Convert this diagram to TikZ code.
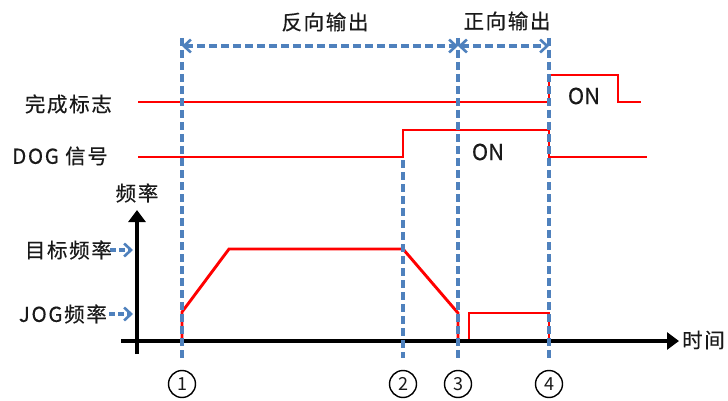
\documentclass[tikz,border=0pt]{standalone}
\usepackage{fontspec}
\setmainfont{Noto Sans CJK SC}
\usetikzlibrary{arrows.meta}
\definecolor{dblue}{RGB}{79,129,189}
\definecolor{sred}{RGB}{255,0,0}
\begin{document}
\begin{tikzpicture}[x=1pt,y=-1pt,
  sig/.style={draw=sred, line width=2.9pt, line join=miter},
  guide/.style={draw=dblue, line width=3.2pt, dash pattern=on 8pt off 4pt},
  barb/.tip={Straight Barb[length=7pt,width=13pt,line width=2.6pt]},
  span/.style={guide, barb-barb},
  tick/.style={draw=dblue, line width=3.2pt, dash pattern=on 6pt off 3pt, -barb},
  lbl/.style={font=\fontsize{20.5pt}{24pt}\selectfont\addfontfeature{LetterSpace=8,FakeBold=0.4}, text=black!90, inner sep=0pt},
  onl/.style={lbl, font=\fontsize{22pt}{24pt}\selectfont\addfontfeature{FakeBold=0.4}},
  num/.style={circle, draw=black, line width=1.4pt, minimum size=27pt, inner sep=0pt, font=\fontsize{18pt}{20pt}\selectfont, text=black!90},
  axis/.style={draw=black, line width=4pt, -{Triangle[length=12pt,width=17pt]}}
]
\useasboundingbox (0,0) rectangle (728,401);

% signal traces
\draw[sig] (138,102) -- (549,102) -- (549,75) -- (618,75) -- (618,102) -- (641,102);
\draw[sig] (138,157) -- (403,157) -- (403,130) -- (549,130) -- (549,157) -- (647,157);
\draw[sig] (182,341) -- (182,312) -- (229,249) -- (403,249) -- (458,313) -- (458,341);
\draw[sig] (469,341) -- (469,313) -- (549,313) -- (549,341);

% axes
\coordinate (yb) at (137,354);
\coordinate (yt) at (137,210);
\coordinate (xl) at (121,341);
\coordinate (xr) at (679,341);
\draw[axis] (yb) -- (yt);
\draw[axis] (xl) -- (xr);

% guide lines
\coordinate (t1) at (182,38); \coordinate (b1) at (182,358);
\coordinate (t2) at (403,160); \coordinate (b2) at (403,358);
\coordinate (t3) at (458,38); \coordinate (b3) at (458,358);
\coordinate (t4) at (549,38); \coordinate (b4) at (549,358);
\draw[guide] (t1) -- (b1);
\draw[guide] (t2) -- (b2);
\draw[guide] (t3) -- (b3);
\draw[guide] (t4) -- (b4);

\coordinate (a1) at (182,46);
\coordinate (a3) at (458,46);
\coordinate (a4) at (549,46);
\draw[span] (a1) -- (a3);
\draw[span] (a3) -- (a4);

% level ticks
\coordinate (g1) at (110,250); \coordinate (g2) at (133,250);
\coordinate (j1) at (109,314); \coordinate (j2) at (133,314);
\draw[tick] (g1) -- (g2);
\draw[tick] (j1) -- (j2);

% labels
\node[lbl] (fan) at (325,22) {反向输出};
\node[lbl] (zheng) at (507,21) {正向输出};
\node[lbl, anchor=east] (done) at (112,104) {完成标志};
\node[lbl, anchor=east] (dog) at (108,156) {DOG 信号};
\node[lbl] (freq) at (137,193) {频率};
\node[lbl, anchor=east] (target) at (112,250) {目标频率};
\node[lbl, anchor=east] (jog) at (107,314) {JOG频率};
\node[lbl, anchor=west] (time) at (682,340) {时间};
\node[onl] (on1) at (584,96) {ON};
\node[onl] (on2) at (488,152) {ON};

% circled numbers
\node[num] (c1) at (182,384) {1};
\node[num] (c2) at (403,384) {2};
\node[num] (c3) at (458,384) {3};
\node[num] (c4) at (549,384) {4};
\end{tikzpicture}
\end{document}
